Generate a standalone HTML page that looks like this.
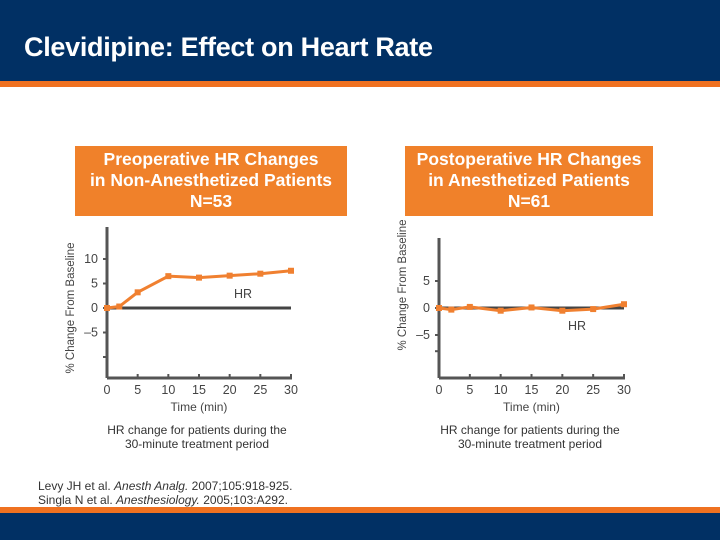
<!DOCTYPE html>
<html><head><meta charset="utf-8"><style>
body{margin:0;width:720px;height:540px;overflow:hidden;background:#fff;font-family:"Liberation Sans",Arial,sans-serif;position:relative}
.abs{position:absolute}
.box{position:absolute;background:#f0812a;color:#fff;font-weight:bold;font-size:17.5px;line-height:21px;text-align:center;padding-top:3px;box-sizing:border-box;white-space:nowrap}
.cap{position:absolute;font-size:12px;color:#333;text-align:center;line-height:14px}
</style></head><body>
<div class="abs" style="left:0;top:0;width:720px;height:81px;background:#013064"></div>
<div class="abs" style="left:0;top:81px;width:720px;height:6px;background:#ef7120"></div>
<div class="abs" style="left:24px;top:32px;color:#fff;font-weight:bold;font-size:27px;letter-spacing:-0.3px">Clevidipine: Effect on Heart Rate</div>
<div class="box" style="left:75px;top:146px;width:272px;height:70px">Preoperative HR Changes<br>in Non-Anesthetized Patients<br>N=53</div>
<div class="box" style="left:405px;top:146px;width:248px;height:70px">Postoperative HR Changes<br>in Anesthetized Patients<br>N=61</div>
<svg class="abs" style="left:0;top:0" width="720" height="540" id="charts"></svg>
<div class="cap" style="left:67px;top:423px;width:260px">HR change for patients during the<br>30-minute treatment period</div>
<div class="cap" style="left:400px;top:423px;width:260px">HR change for patients during the<br>30-minute treatment period</div>
<div class="abs" style="left:38px;top:480px;font-size:12px;line-height:13.5px;color:#333">Levy JH et al. <i>Anesth Analg.</i> 2007;105:918-925.<br>Singla N et al. <i>Anesthesiology.</i> 2005;103:A292.</div>
<div class="abs" style="left:0;top:507px;width:720px;height:6px;background:#ef7120"></div>
<div class="abs" style="left:0;top:513px;width:720px;height:27px;background:#013064"></div>
<script>
const times=[0,2,5,10,15,20,25,30];
const preHR=[0,0.3,3.2,6.5,6.2,6.6,7.0,7.6];
const postHR=[0,-0.3,0.2,-0.5,0.1,-0.5,-0.2,0.7];
const xTicks=[0,5,10,15,20,25,30];
const preYTicks=[10,5,0,-5,-10];
const preYLabels=["10","5","0","\u20135",""];
const postYTicks=[5,0,-5,-8];
const postYLabels=["5","0","\u20135",""];
const NS="http://www.w3.org/2000/svg";
const svg=document.getElementById('charts');
function mk(t,a){const e=document.createElementNS(NS,t);for(const k in a)e.setAttribute(k,a[k]);svg.appendChild(e);return e;}
function chart(cfg,data,yt,yl,pfx){
  const X=v=>cfg.x0+(v/30)*(cfg.x1-cfg.x0);
  const Y=v=>cfg.y0-v*cfg.sy;
  let e=mk('line',{x1:cfg.x0,y1:cfg.top,x2:cfg.x0,y2:cfg.bot,stroke:'#555','stroke-width':3});
  
  e=mk('line',{x1:cfg.x0,y1:cfg.bot,x2:cfg.x1+1,y2:cfg.bot,stroke:'#555','stroke-width':3});
  
  e=mk('line',{x1:cfg.x0,y1:Y(0),x2:cfg.x1,y2:Y(0),stroke:'#444','stroke-width':3});
  
  yt.forEach((v,i)=>{
    const t=mk('line',{x1:cfg.x0-4,y1:Y(v),x2:cfg.x0,y2:Y(v),stroke:'#555','stroke-width':2});
    
    const l=mk('text',{x:cfg.x0-9,y:Y(v)+4,'text-anchor':'end','font-size':12.5,fill:'#444'});
    l.textContent=yl[i];
    
  });
  xTicks.forEach(v=>{
    const t=mk('line',{x1:X(v),y1:cfg.bot,x2:X(v),y2:cfg.bot-4,stroke:'#555','stroke-width':2});
    
    const l=mk('text',{x:X(v),y:cfg.bot+16,'text-anchor':'middle','font-size':12.5,fill:'#444'});
    l.textContent=v;
    
  });
  let xt=mk('text',{x:(cfg.x0+cfg.x1)/2,y:cfg.bot+33,'text-anchor':'middle','font-size':12,fill:'#444'});
  xt.textContent='Time (min)';
  
  let yt2=mk('text',{x:0,y:0,'text-anchor':'middle','font-size':11.5,fill:'#444',transform:`translate(${cfg.ylx},${cfg.yly}) rotate(-90)`});
  yt2.textContent='% Change From Baseline';
  
  const pts=data.map((v,i)=>X(times[i])+','+Y(v)).join(' ');
  const pl=mk('polyline',{points:pts,fill:'none',stroke:'#f08030','stroke-width':3});
  
  data.forEach((v,i)=>{
    const r=mk('rect',{x:X(times[i])-3,y:Y(v)-3,width:6,height:6,fill:'#f08030'});
    
  });
  const hl=mk('text',{x:cfg.hrx,y:cfg.hry,'text-anchor':'middle','font-size':12.5,fill:'#444'});
  hl.textContent='HR';
  
}
chart({x0:107,x1:291,y0:308,sy:4.9,top:227,bot:378,ylx:74,yly:308,hrx:243,hry:298},preHR,preYTicks,preYLabels,'left');
chart({x0:439,x1:624,y0:308,sy:5.4,top:238,bot:378,ylx:406,yly:285,hrx:577,hry:330},postHR,postYTicks,postYLabels,'right');
</script>
</body></html>
